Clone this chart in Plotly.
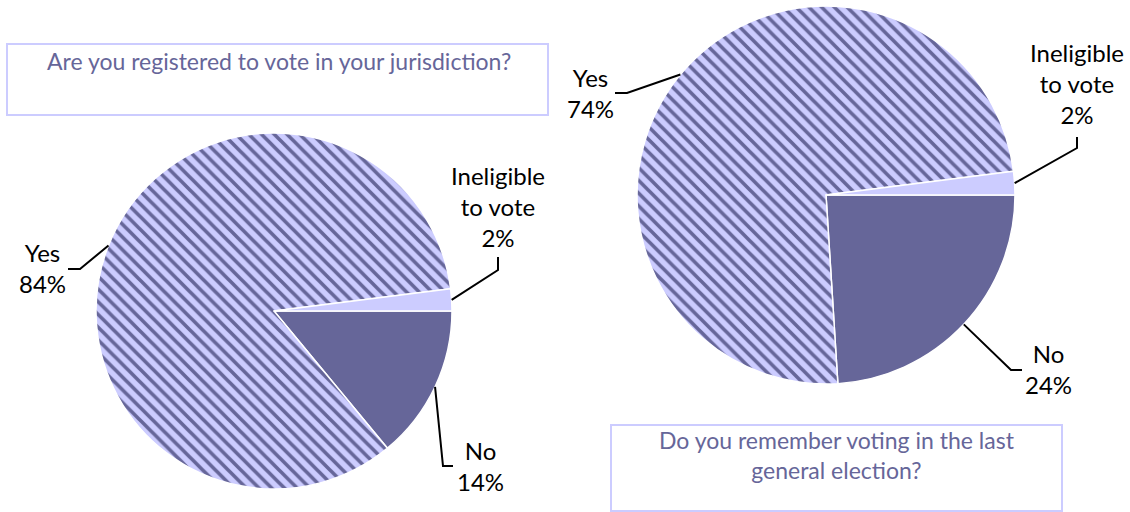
import math
import plotly.graph_objects as go

# ---- data ----
categories = ["No", "Yes", "Ineligible<br>to vote"]
registered_pct = [14, 84, 2]
remember_pct = [24, 74, 2]
titles = ["Are you registered to vote in your jurisdiction?",
          "Do you remember voting in the last<br>general election?"]

W, H = 1130, 512
DARK = "#666699"
LIGHT = "#ccccff"
FONT = "Lato"

def px(x, y):
    return x / W, 1 - y / H

# pie geometry (pixels): centre and radius
pies = [
    dict(values=registered_pct, cx=274, cy=311, r=178,
         lab=[(481, 466), (42, 268), (498, 206)],
         corner=[(443, 466), (80, 269), (498, 270)],
         end=[(453, 466), (68, 269), (498, 257)]),
    dict(values=remember_pct, cx=826, cy=195, r=189,
         lab=[(1048, 369), (590, 93), (1077, 83)],
         corner=[(1011, 370), (627, 93), (1077, 148)],
         end=[(1022, 370), (615, 93), (1077, 137)]),
]

fig = go.Figure()
shapes = []
annotations = []
for p in pies:
    x0, y1 = px(p["cx"] - p["r"], p["cy"] - p["r"])
    x1, y0 = px(p["cx"] + p["r"], p["cy"] + p["r"])
    fig.add_trace(go.Pie(
        labels=categories, values=p["values"], sort=False,
        direction="clockwise", rotation=90, textinfo="none",
        hoverinfo="label+percent",
        domain=dict(x=[x0, x1], y=[y0, y1]),
        marker=dict(colors=[DARK, LIGHT, LIGHT],
                    line=dict(color="white", width=1.5),
                    pattern=dict(shape=["", "\\", ""], fgcolor=DARK,
                                 bgcolor=LIGHT, fillmode="replace",
                                 size=9, solidity=0.4)),
        showlegend=False,
    ))
    total = sum(p["values"])
    cum = 0
    for i, v in enumerate(p["values"]):
        mid = (cum + v / 2) / total * 2 * math.pi
        cum += v
        sx = p["cx"] + p["r"] * math.cos(mid)
        sy = p["cy"] + p["r"] * math.sin(mid)
        pts = [px(sx, sy), px(*p["corner"][i]), px(*p["end"][i])]
        path = "M {} {} L {} {} L {} {}".format(*pts[0], *pts[1], *pts[2])
        shapes.append(dict(type="path", path=path, xref="paper", yref="paper",
                           line=dict(color="black", width=2)))
        lx, ly = px(*p["lab"][i])
        annotations.append(dict(
            x=lx, y=ly, xref="paper", yref="paper", showarrow=False,
            text=f"{categories[i]}<br>{v}%", align="center",
            xanchor="center", yanchor="middle",
            font=dict(family=FONT, size=24, color="black")))

# title boxes
boxes = [((7, 44), (548, 115), (279, 61)), ((611, 425), (1062, 511), (837, 455))]
for (b0, b1, tc), t in zip(boxes, titles):
    bx0, by1 = px(*b0)
    bx1, by0 = px(*b1)
    shapes.append(dict(type="rect", xref="paper", yref="paper",
                       x0=bx0, x1=bx1, y0=by0, y1=by1,
                       line=dict(color=LIGHT, width=2), fillcolor="white",
                       layer="below"))
    tx, ty = px(*tc)
    annotations.append(dict(x=tx, y=ty, xref="paper", yref="paper",
                            showarrow=False, text=t, align="center",
                            xanchor="center", yanchor="middle",
                            font=dict(family=FONT, size=23, color=DARK)))

fig.update_layout(width=W, height=H, margin=dict(l=0, r=0, t=0, b=0),
                  paper_bgcolor="white", plot_bgcolor="white",
                  shapes=shapes, annotations=annotations)
fig.write_html("out.html", config={"displayModeBar": False},
               post_script="document.body.style.margin='0';")
